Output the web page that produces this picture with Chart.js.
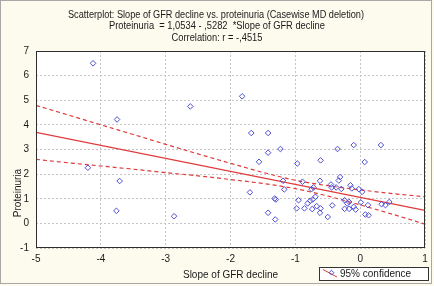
<!DOCTYPE html>
<html><head><meta charset="utf-8">
<script src="https://cdn.jsdelivr.net/npm/chart.js@4"></script>
<style>html,body{margin:0;padding:0;background:#fff}#wrap{width:434px;height:286px}</style>
</head><body><div id="wrap"><canvas id="c" width="434" height="286"></canvas></div>
<script>
// ---- data ----
const titleLines = [
  "Scatterplot: Slope of GFR decline vs. proteinuria (Casewise MD deletion)",
  "Proteinuria  = 1,0534 - ,5282  *Slope of GFR decline",
  "Correlation: r = -,4515"
];
const xTitle = "Slope of GFR decline";
const yTitle = "Proteinuria";
const legendLabel = "95% confidence";

const slopeGFR = [-4.12,-3.75,-2.62,-4.20,-3.71,-3.76,-2.87,-1.82,-1.68,-1.42,-1.42,-1.23,-1.56,-0.97,-0.61,-0.35,-0.10,0.32,0.07,
  -1.19,-1.17,-0.89,-0.62,-0.31,-0.33,-0.45,-0.44,-0.37,-0.29,-0.15,-0.13,-0.02,0.03,0.01,0.12,0.08,0.13,0.33,0.39,0.45,
  -0.75,-0.72,-0.95,-0.98,-0.86,-0.81,-0.77,-0.73,-0.69,-0.74,-0.67,-0.61,-0.62,-0.50,-0.43,-0.24,-0.20,-0.17,-0.24,-0.17,-0.10,-0.07,
  -1.32,-1.30,-1.31,-1.70,-1.42];
const proteinuria = [6.50,4.22,4.75,2.26,1.72,0.51,0.29,5.16,3.67,3.67,2.87,3.02,2.50,2.43,2.56,3.02,3.18,3.18,2.49,
  1.73,1.38,1.69,1.73,1.88,1.74,1.58,1.46,1.46,1.40,1.55,1.42,1.39,1.28,0.85,0.74,0.36,0.33,0.78,0.74,0.87,
  1.39,1.46,0.94,0.61,0.61,0.81,0.92,0.97,1.08,0.58,0.70,0.61,0.43,0.26,0.73,0.94,0.81,0.87,0.59,0.59,0.67,0.56,
  1.01,0.97,0.16,1.26,0.43];

const fitX = [-5, 1];
const fitY = [3.694, 0.525];

const bandX = [-5,-4.5,-4,-3.5,-3,-2.5,-2,-1.5,-1,-0.5,0,0.5,1];
const bandUpper = [4.79,4.40,4.00,3.61,3.21,2.82,2.44,2.07,1.75,1.53,1.36,1.21,1.08];
const bandLower = [2.60,2.46,2.33,2.20,2.06,1.93,1.78,1.62,1.41,1.11,0.75,0.37,-0.03];

const xTicks = [-5,-4,-3,-2,-1,0,1];
const yTicks = [-1,0,1,2,3,4,5,6,7];

// ---- styling ----
const BG = '#fdfbee';
const RED = '#e03a3a';
const BLUE = '#4f4fd6';
const FONT = '"Liberation Sans", Arial, sans-serif';

const pts = slopeGFR.map((x,i)=>({x, y: proteinuria[i]}));
const fit = fitX.map((x,i)=>({x, y: fitY[i]}));
const up = bandX.map((x,i)=>({x, y: bandUpper[i]}));
const lo = bandX.map((x,i)=>({x, y: bandLower[i]}));

function fitText(ctx, txt, x, y, targetW){
  const w = ctx.measureText(txt).width;
  ctx.save(); ctx.translate(x,y); ctx.scale(targetW/w,1); ctx.fillText(txt,0,0); ctx.restore();
}

const deco = {
  id:'deco',
  beforeDraw(chart){
    const c = chart.ctx, a = chart.chartArea;
    c.save();
    c.fillStyle = BG; c.fillRect(0,0,chart.width,chart.height);
    c.fillStyle = '#ffffff'; c.fillRect(a.left,a.top,a.right-a.left,a.bottom-a.top);
    c.restore();
  },
  afterDraw(chart){
    const c = chart.ctx, a = chart.chartArea;
    c.save();
    // plot frame
    c.strokeStyle = '#2e2e2e'; c.lineWidth = 1;
    c.strokeRect(Math.round(a.left)+0.5, Math.round(a.top)+0.5, Math.round(a.right-a.left)-1, Math.round(a.bottom-a.top)-1);
    // titles
    c.fillStyle = '#1a1a1a';
    c.textAlign = 'center'; c.textBaseline = 'middle';
    c.font = '10px ' + FONT;
    fitText(c, titleLines[0], 216, 15, 296);
    fitText(c, titleLines[1], 217, 26.5, 216);
    fitText(c, titleLines[2], 217, 38, 91);
    // axis titles
    c.font = '10px ' + FONT;
    c.fillText(xTitle, (a.left+a.right)/2, 275.5);
    c.save(); c.translate(18.5, 193); c.rotate(-Math.PI/2); c.fillText(yTitle, 0, 0); c.restore();
    // legend
    c.fillStyle = '#ffffff'; c.fillRect(319.5, 267.5, 109, 13);
    c.strokeStyle = '#333'; c.strokeRect(319.5, 267.5, 109, 13);
    c.strokeStyle = RED; c.lineWidth = 1;
    c.beginPath(); c.moveTo(323, 269.5); c.lineTo(337, 277); c.stroke();
    c.strokeStyle = BLUE;
    c.beginPath(); c.moveTo(331.5,270.3); c.lineTo(333.9,272.7); c.lineTo(331.5,275.1); c.lineTo(329.1,272.7); c.closePath(); c.stroke();
    c.fillStyle = '#1a1a1a'; c.textAlign = 'left';
    c.fillText(legendLabel, 340, 274);
    // outer border
    c.strokeStyle = '#a8a8a8'; c.lineWidth = 1;
    c.strokeRect(0.5, 0.5, 431, 283);
    c.restore();
  }
};

new Chart(document.getElementById('c'), {
  type: 'scatter',
  data: {
    datasets: [
      { label: legendLabel, data: pts, pointStyle: 'rectRot', pointRadius: 2.8, pointHoverRadius: 2.8,
        borderColor: BLUE, backgroundColor: 'rgba(255,255,255,0)', borderWidth: 1, showLine: false, order: 0 },
      { label: 'fit', data: fit, showLine: true, pointRadius: 0, borderColor: RED, borderWidth: 1.3, order: 1 },
      { label: 'upper', data: up, showLine: true, pointRadius: 0, borderColor: RED, borderWidth: 1.2,
        borderDash: [4,3], tension: 0.4, cubicInterpolationMode: 'monotone', order: 2 },
      { label: 'lower', data: lo, showLine: true, pointRadius: 0, borderColor: RED, borderWidth: 1.2,
        borderDash: [4,3], tension: 0.4, cubicInterpolationMode: 'monotone', order: 3 }
    ]
  },
  options: {
    responsive: false, animation: false, devicePixelRatio: 1,
    layout: { padding: { top: 51, right: 9, bottom: 0, left: 0 } },
    plugins: { legend: { display: false }, title: { display: false }, tooltip: { enabled: false } },
    scales: {
      x: {
        type: 'linear', min: -5, max: 1,
        afterBuildTicks(s){ s.ticks = xTicks.map(v=>({value:v})); },
        afterFit(s){ s.height = 38; },
        grid: { color: '#c4c4c4', lineWidth: 1, drawTicks: false },
        border: { display: false, dash: [2,2] },
        ticks: { padding: 5, color: '#1a1a1a', font: { size: 10, family: FONT }, maxRotation: 0,
          callback: v => String(v) }
      },
      y: {
        type: 'linear', min: -1, max: 7,
        afterBuildTicks(s){ s.ticks = yTicks.map(v=>({value:v})); },
        afterFit(s){ s.width = 36; },
        grid: { color: '#c4c4c4', lineWidth: 1, drawTicks: false },
        border: { display: false, dash: [2,2] },
        ticks: { padding: 7, color: '#1a1a1a', font: { size: 10, family: FONT }, callback: v => String(v) }
      }
    }
  },
  plugins: [deco]
});
</script>
</body></html>
